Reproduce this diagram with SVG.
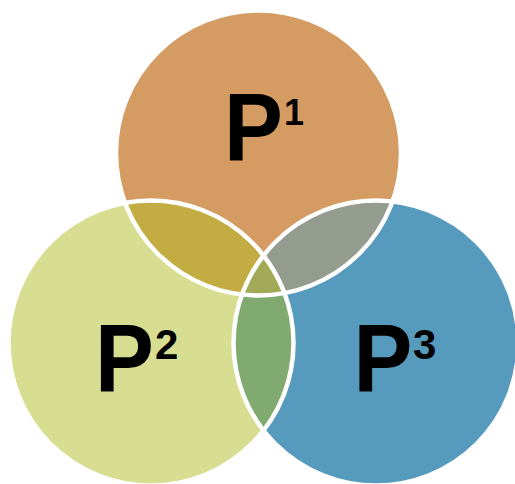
<svg xmlns="http://www.w3.org/2000/svg" width="515" height="484" viewBox="0 0 515 484">
<style>
.lbl{font-family:"Liberation Sans",Arial,sans-serif;font-weight:bold;fill:#000}
.big{font-size:96px}
.sup{font-size:42px}
.edge{fill:none;stroke:#fff;stroke-width:4.5}
</style>
<defs>
<circle id="cT" cx="258.5" cy="153" r="142.5"/>
<circle id="cL" cx="151" cy="343" r="142.5"/>
<circle id="cR" cx="376" cy="343" r="142.5"/>
<clipPath id="clipT"><use href="#cT"/></clipPath>
<clipPath id="clipL"><use href="#cL"/></clipPath>
<clipPath id="clipTL" clip-path="url(#clipT)"><use href="#cL"/></clipPath>
</defs>
<g id="set-p1"><use href="#cT" fill="#D49B62"/></g>
<g id="set-p2"><use href="#cL" fill="#D7DE91"/></g>
<g id="set-p3"><use href="#cR" fill="#569ABE"/></g>
<g id="overlaps">
<use href="#cL" fill="#C3AC42" clip-path="url(#clipT)"/>
<use href="#cR" fill="#949B8F" clip-path="url(#clipT)"/>
<use href="#cR" fill="#80AA70" clip-path="url(#clipL)"/>
<use href="#cR" fill="#A2AA58" clip-path="url(#clipTL)"/>
</g>
<g id="outlines">
<use href="#cT" class="edge"/>
<use href="#cL" class="edge"/>
<use href="#cR" class="edge"/>
</g>
<g id="label-p1">
<text class="lbl big" transform="translate(224,160) scale(0.92,1)">P</text>
<text class="lbl" style="font-size:36px" x="284" y="125">1</text>
</g>
<g id="label-p2">
<text class="lbl big" transform="translate(95,391) scale(0.92,1)">P</text>
<text class="lbl sup" x="155" y="358.5">2</text>
</g>
<g id="label-p3">
<text class="lbl big" transform="translate(353.5,391) scale(0.92,1)">P</text>
<text class="lbl sup" x="413" y="358.5">3</text>
</g>
</svg>
